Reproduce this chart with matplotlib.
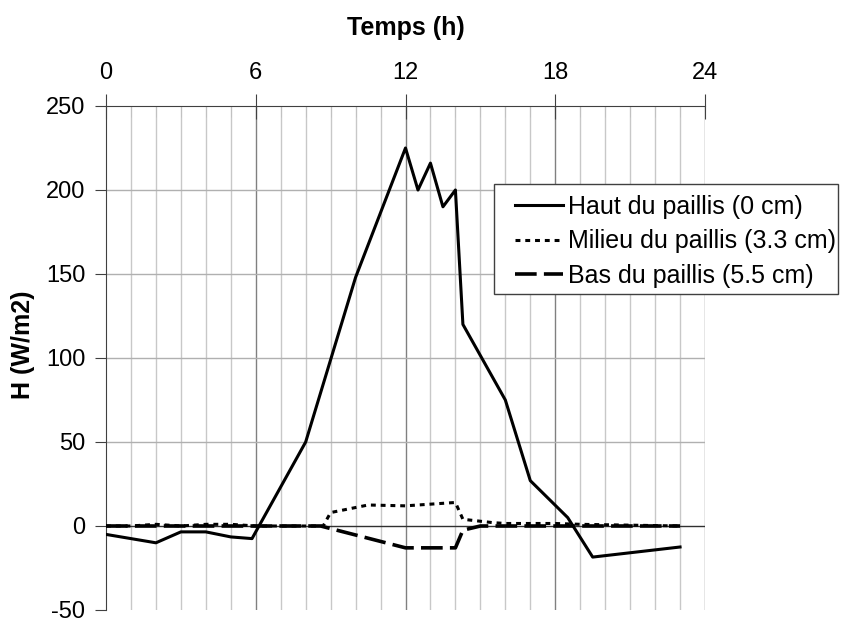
import numpy as np
import matplotlib.pyplot as plt
from matplotlib.patches import Rectangle
from matplotlib.ticker import MultipleLocator

plt.rcParams['font.family'] = ['Liberation Sans', 'DejaVu Sans']
plt.rcParams['axes.unicode_minus'] = False

# ------------------------------ data ------------------------------
haut_t = [0, 2, 3, 4, 5, 5.85, 8, 10, 12, 12.5, 13, 13.5, 14, 14.3, 16, 17, 18.5, 19.5, 23]
haut_h = [-5, -10, -3.5, -3.5, -6.5, -7.5, 50, 148, 225, 200, 216, 190, 200, 120, 75, 27, 5, -18.5, -12.5]

milieu_t = [0, 1, 2, 3, 4, 5, 6, 7, 8, 8.7, 9, 10.5, 12, 14, 14.3, 15.5, 16, 17, 18, 19, 23]
milieu_h = [0, 0, 1, 0, 1, 1, 0, 0, 0, 0, 8, 12.5, 12, 14, 4, 2, 1.5, 1.5, 1.5, 1, 0]

bas_t = [0, 2, 4, 6, 8, 8.6, 12, 14, 14.3, 15, 16, 18, 20, 23]
bas_h = [0, 0, 0, 0, 0, 0, -13, -13, -2.5, 0, 0, 0, 0, 0]

labels = ['Haut du paillis (0 cm)', 'Milieu du paillis (3.3 cm)', 'Bas du paillis (5.5 cm)']

# ------------------------------ figure ----------------------------
W, H = 848, 620
fig = plt.figure(figsize=(W/100, H/100), dpi=100)
ax = fig.add_axes([106/W, 1-610/H, (705-106)/W, (610-106)/H])

ax.set_xlim(0, 24)
ax.set_ylim(-50, 250)

# grid
for h in range(1, 24):
    col = '#808080' if h % 6 == 0 else '#c8c8c8'
    ax.axvline(h, color=col, lw=1.0, zorder=1)
ax.axvline(24, color='#808080', lw=1.0, zorder=1)
for v in [50, 100, 150, 200]:
    ax.axhline(v, color='#b0b0b0', lw=1.0, zorder=1)
ax.axhline(0, color='#303030', lw=1.0, zorder=1)

l1, = ax.plot(haut_t, haut_h, color='black', lw=2.2, zorder=3)
l2, = ax.plot(milieu_t, milieu_h, color='black', lw=2.2, ls=(0, (1.6, 1.6)), zorder=3)
l3, = ax.plot(bas_t, bas_h, color='black', lw=2.6, ls=(0, (6, 2)), zorder=3)

for s in ['right', 'bottom']:
    ax.spines[s].set_visible(False)
ax.spines['top'].set_color('#404040')
ax.spines['left'].set_color('#404040')

ax.xaxis.tick_top()
ax.xaxis.set_label_position('top')
ax.set_xticks([0, 6, 12, 18, 24])
ax.xaxis.set_minor_locator(MultipleLocator(1))
ax.tick_params(axis='x', which='major', direction='inout', length=18, color='#404040', labelsize=17, pad=7)
ax.tick_params(axis='x', which='minor', direction='in', length=8, color='#c0c0c0')
ax.set_yticks(np.arange(-50, 251, 50))
ax.tick_params(axis='y', direction='out', length=8, color='#404040', labelsize=17, pad=7)

ax.set_xlabel('Temps (h)', fontsize=18, fontweight='bold', labelpad=19)
ax.set_ylabel('H (W/m2)', fontsize=18, fontweight='bold', va='center')
ax.yaxis.set_label_coords(-0.139, 0.526)

# legend: frame drawn by hand so the padding matches
fig.patches.append(Rectangle((494/W, 1-294/H), (838-494)/W, (294-184)/H, transform=fig.transFigure,
                             facecolor='white', edgecolor='#404040', lw=1.0, zorder=4))
leg = fig.legend([l1, l2, l3], labels, loc='upper left', bbox_to_anchor=(515/W, 1-195/H),
                 frameon=False, fontsize=18, handlelength=1.9,
                 borderpad=0, labelspacing=0.42, handletextpad=0.2, borderaxespad=0)
leg.set_zorder(5)

fig.savefig('out.png', dpi=100)
